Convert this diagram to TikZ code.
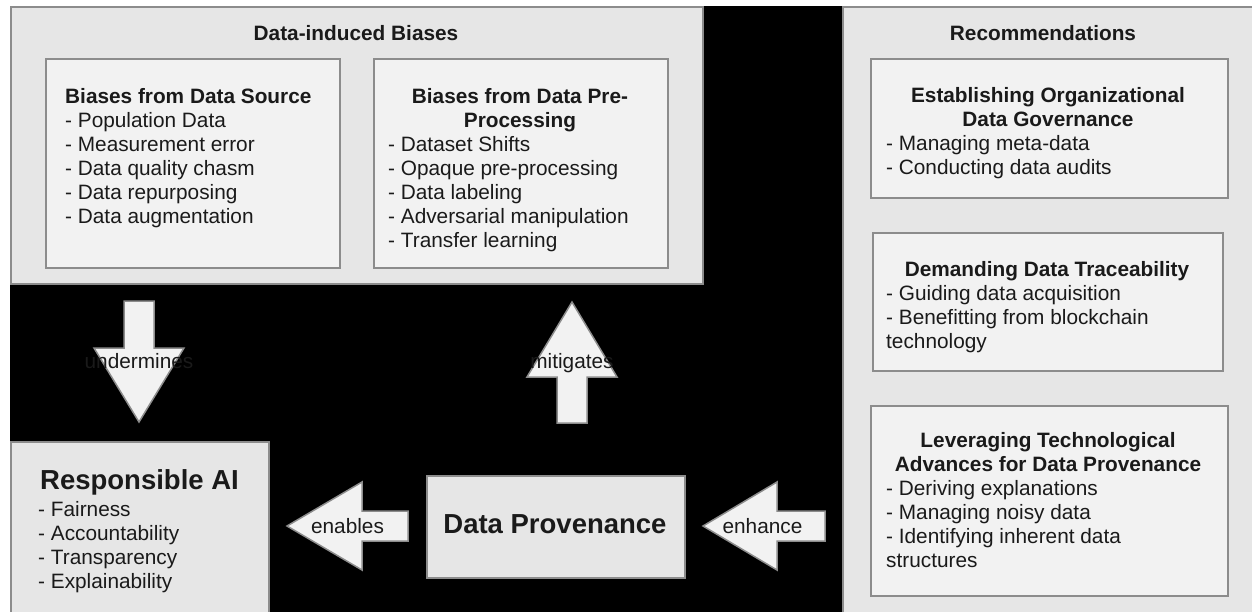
\documentclass[tikz,border=0pt]{standalone}
\usepackage{fontspec}
\setmainfont{Liberation Sans}
\usetikzlibrary{positioning}

\definecolor{boxgray}{HTML}{E6E6E6}
\definecolor{innergray}{HTML}{F2F2F2}
\definecolor{edgegray}{HTML}{8C8C8C}
\definecolor{ink}{HTML}{1A1A1A}

\begin{document}
\begin{tikzpicture}[x=1pt,y=-1pt,
  outer/.style={draw=edgegray, line width=1.5pt, fill=boxgray, inner sep=0pt, anchor=north west},
  inner/.style={draw=edgegray, line width=1.5pt, fill=innergray, inner sep=0pt, anchor=north west},
  txt/.style={text=ink, inner sep=0pt, font=\fontsize{20.8}{24.1}\selectfont},
  list/.style={txt, align=left, anchor=north west},
  ttl/.style={txt, align=center, anchor=north, font=\fontsize{20.8}{24.1}\selectfont\bfseries},
  big/.style={txt, font=\fontsize{27.5}{30}\selectfont\bfseries},
  blockarrow/.style={draw=edgegray, line width=1.5pt, fill=innergray, line join=miter}]
\useasboundingbox (0,0) rectangle (1252,611);
\fill[black] (10,6) rectangle (842,620);

% Data-induced biases
\node[outer, minimum width=692pt, minimum height=277pt] (bias) at (10,6) {};
\node[ttl, anchor=base] (biasttl) at (356,40) {Data-induced Biases};
\node[inner, minimum width=294pt, minimum height=209pt] (src) at (45,58) {};
\node[list] (srclist) at (65,86) {\strut\textbf{Biases from Data Source}\\- Population Data\\- Measurement error\\- Data quality chasm\\- Data repurposing\\- Data augmentation};
\node[inner, minimum width=294pt, minimum height=209pt] (pre) at (373,58) {};
\node[ttl] (prettl) at (520,86) {\strut Biases from Data Pre-\\Processing};
\node[list] (prelist) at (388,134.2) {\strut- Dataset Shifts\\- Opaque pre-processing\\- Data labeling\\- Adversarial manipulation\\- Transfer learning};

% Recommendations
\node[outer, minimum width=420pt, minimum height=620pt] (rec) at (842,6) {};
\node[ttl, anchor=base] (recttl) at (1043,40) {Recommendations};
\node[inner, minimum width=357pt, minimum height=139pt] (gov) at (870,58) {};
\node[ttl] (govttl) at (1048,85) {\strut Establishing Organizational\\Data Governance};
\node[list] (govlist) at (886,133.2) {\strut- Managing meta-data\\- Conducting data audits};
\node[inner, minimum width=350pt, minimum height=138pt] (trace) at (872,232) {};
\node[ttl] (tracettl) at (1047,259) {\strut Demanding Data Traceability};
\node[list] (tracelist) at (886,283.1) {\strut- Guiding data acquisition\\- Benefitting from blockchain\\technology};
\node[inner, minimum width=357pt, minimum height=190pt] (tech) at (870,405) {};
\node[ttl] (techttl) at (1048,430) {\strut Leveraging Technological\\Advances for Data Provenance};
\node[list] (techlist) at (886,478.2) {\strut- Deriving explanations\\- Managing noisy data\\- Identifying inherent data\\structures};

% Responsible AI and Data Provenance
\node[outer, minimum width=258pt, minimum height=180pt] (rai) at (10,441) {};
\node[big, anchor=base west] (raittl) at (40,489) {Responsible AI};
\node[list] (railist) at (38,499) {\strut- Fairness\\- Accountability\\- Transparency\\- Explainability};
\node[outer, minimum width=258pt, minimum height=102pt] (prov) at (426,475) {};
\node[big, anchor=base] (provttl) at (555,533) {Data Provenance};

% Block arrows
\draw[blockarrow] (124,301) -- (154,301) -- (154,348) -- (184,348) -- (139,422) -- (94,348) -- (124,348) -- cycle;
\draw[blockarrow] (557,423) -- (587,423) -- (587,377) -- (617,377) -- (572,302) -- (527,377) -- (557,377) -- cycle;
\draw[blockarrow] (408,511) -- (408,541) -- (362,541) -- (362,570) -- (287,526) -- (362,482) -- (362,511) -- cycle;
\draw[blockarrow] (825,511) -- (825,541) -- (777,541) -- (777,570) -- (703,526) -- (777,482) -- (777,511) -- cycle;
\node[txt, anchor=base] (undermines) at (139,368) {undermines};
\node[txt, anchor=base] (mitigates) at (572,368) {mitigates};
\node[txt, anchor=base] (enables) at (347.5,533) {enables};
\node[txt, anchor=base] (enhance) at (762.5,533) {enhance};
\end{tikzpicture}
\end{document}
